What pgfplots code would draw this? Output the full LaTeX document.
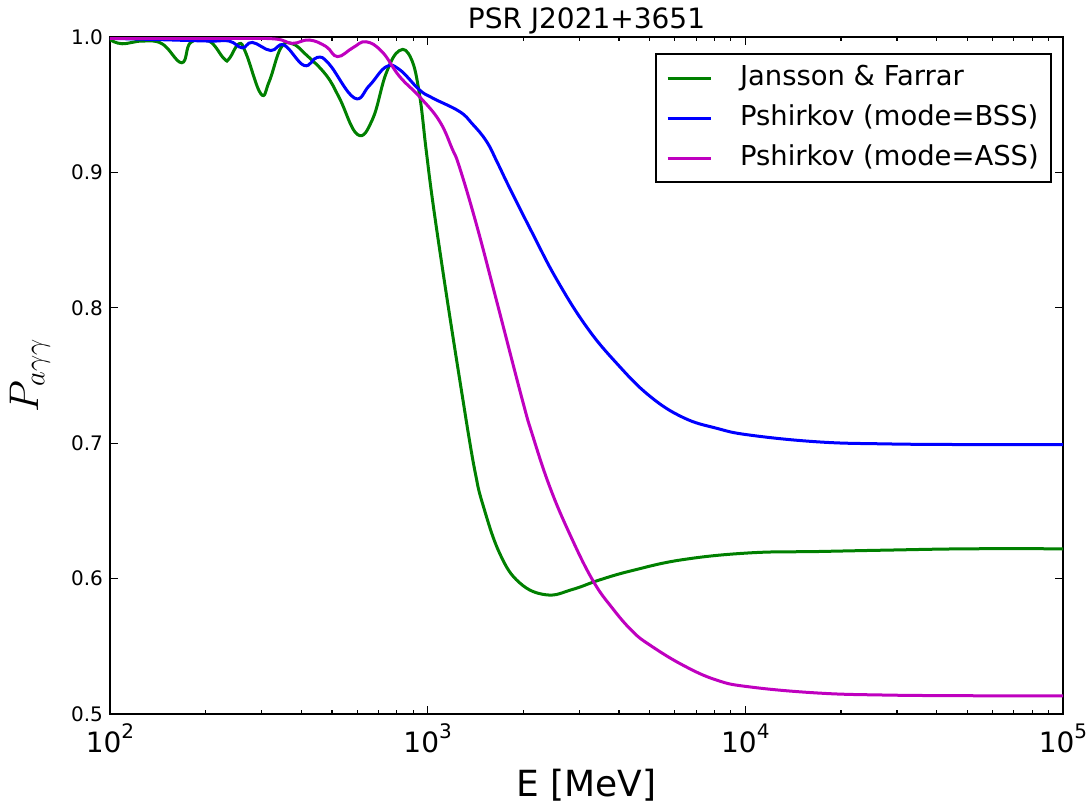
\documentclass[border=0pt]{standalone}
\usepackage{fontspec}
\setmainfont{DejaVu Sans}
\usepackage{pgfplots}
\pgfplotsset{compat=1.18}
\definecolor{mplgreen}{RGB}{0,128,0}
\definecolor{mplblue}{RGB}{0,0,255}
\definecolor{mplmag}{RGB}{191,0,191}
\newcommand{\xt}[1]{\fontsize{14}{16}\selectfont 10\raisebox{7pt}{\fontsize{10}{12}\selectfont #1}}
\begin{document}
\begin{tikzpicture}
\useasboundingbox (-55pt,-44.5pt) rectangle (491pt,357pt);
\begin{axis}[
  at={(0pt,0pt)}, anchor=south west,
  scale only axis,
  width=476.5pt, height=338.5pt,
  xmin=2, xmax=5, ymin=0.5, ymax=1.0,
  xtick={2,3,4,5},
  xticklabels={\xt{2},\xt{3},\xt{4},\xt{5}},
  minor xtick={2.30103,2.47712,2.60206,2.69897,2.77815,2.84510,2.90309,2.95424,
               3.30103,3.47712,3.60206,3.69897,3.77815,3.84510,3.90309,3.95424,
               4.30103,4.47712,4.60206,4.69897,4.77815,4.84510,4.90309,4.95424},
  ytick={0.5,0.6,0.7,0.8,0.9,1.0},
  yticklabel style={font=\fontsize{10}{12}\selectfont, /pgf/number format/fixed, /pgf/number format/fixed zerofill, /pgf/number format/precision=1, /pgf/number format/assume math mode=true},
  xticklabel style={anchor=base, yshift=-19pt, inner sep=0pt},
  major tick length=4pt, minor tick length=2pt,
  tick style={black, line width=0.6pt},
  axis line style={line width=1pt},
  title={PSR J2021+3651},
  title style={font=\fontsize{14}{16}\selectfont, at={(0.5,1)}, anchor=base, yshift=-1.5pt, inner sep=0pt},
  xlabel={E [MeV]},
  xlabel style={font=\fontsize{18}{20}\selectfont, at={(0.5,0)}, anchor=base, yshift=-41pt, inner sep=0pt},
  ylabel={$P_{a\gamma\gamma}$},
  ylabel style={font=\fontsize{20}{22}\selectfont, at={(-0.084,0.5)}, anchor=center, rotate=0},
  legend style={at={(0.988,0.976)}, anchor=north east, draw=black, line width=0.8pt,
    font=\fontsize{13.7}{16}\selectfont, inner xsep=5pt, inner ysep=2pt,
    nodes={inner xsep=1pt, inner ysep=2pt, text height=11.5pt, text depth=4.5pt}, row sep=0pt,
    /tikz/every odd column/.append style={column sep=13pt}},
  legend cell align=left,
  legend image code/.code={\draw[#1, line width=1.5pt] (0pt,0pt) -- (21.5pt,0pt);},
  every axis plot/.append style={line width=1.5pt},
]
\addplot[mplgreen, smooth, tension=0.7] coordinates {
(2.000,0.998) (2.038,0.995) (2.101,0.997) (2.164,0.995) (2.226,0.981) (2.254,0.996)
(2.312,0.997) (2.359,0.984) (2.375,0.984) (2.406,0.995) (2.428,0.988) (2.475,0.958)
(2.501,0.967) (2.538,0.992) (2.574,0.995) (2.617,0.987) (2.680,0.972) (2.722,0.955)
(2.779,0.928) (2.826,0.939) (2.869,0.973) (2.911,0.990) (2.948,0.984) (2.974,0.958)
(2.995,0.917) (3.015,0.880) (3.046,0.830) (3.078,0.781) (3.109,0.735) (3.131,0.703)
(3.150,0.678) (3.172,0.656) (3.226,0.619) (3.289,0.597) (3.374,0.588) (3.456,0.592) (3.541,0.599)
(3.645,0.606) (3.803,0.614) (4.014,0.619) (4.228,0.620) (4.439,0.621) (4.700,0.622) (5.000,0.622)
};
\addlegendentry{Jansson \& Farrar}
\addplot[mplblue, smooth, tension=0.7] coordinates {
(2.000,0.999) (2.164,0.998) (2.312,0.997) (2.375,0.997) (2.416,0.992) (2.448,0.996)
(2.506,0.990) (2.548,0.994) (2.611,0.979) (2.653,0.985) (2.690,0.980) (2.769,0.955)
(2.816,0.964) (2.869,0.978) (2.911,0.976) (2.974,0.961) (3.015,0.955) (3.100,0.945)
(3.140,0.936) (3.185,0.923) (3.220,0.907) (3.257,0.889) (3.330,0.855) (3.406,0.821) (3.500,0.786) (3.595,0.759)
(3.698,0.735) (3.804,0.719) (3.910,0.711) (4.014,0.706) (4.228,0.701) (4.439,0.6995)
(4.700,0.699) (5.000,0.699)
};
\addlegendentry{Pshirkov (mode=BSS)}
\addplot[mplmag, smooth, tension=0.7] coordinates {
(2.000,0.999) (2.200,0.999) (2.400,0.999) (2.522,0.9985) (2.574,0.9953) (2.627,0.9978)
(2.680,0.993) (2.716,0.9855) (2.764,0.992) (2.806,0.9965) (2.857,0.989) (2.911,0.971)
(2.974,0.956) (3.037,0.938) (3.078,0.917) (3.100,0.904) (3.153,0.862) (3.216,0.806)
(3.298,0.732) (3.330,0.706) (3.384,0.668) (3.447,0.633) (3.519,0.599) (3.582,0.578)
(3.645,0.561) (3.699,0.551) (3.804,0.536) (3.910,0.525) (4.014,0.520) (4.228,0.5155)
(4.439,0.514) (4.700,0.5135) (5.000,0.5133)
};
\addlegendentry{Pshirkov (mode=ASS)}
\end{axis}
\end{tikzpicture}
\end{document}
